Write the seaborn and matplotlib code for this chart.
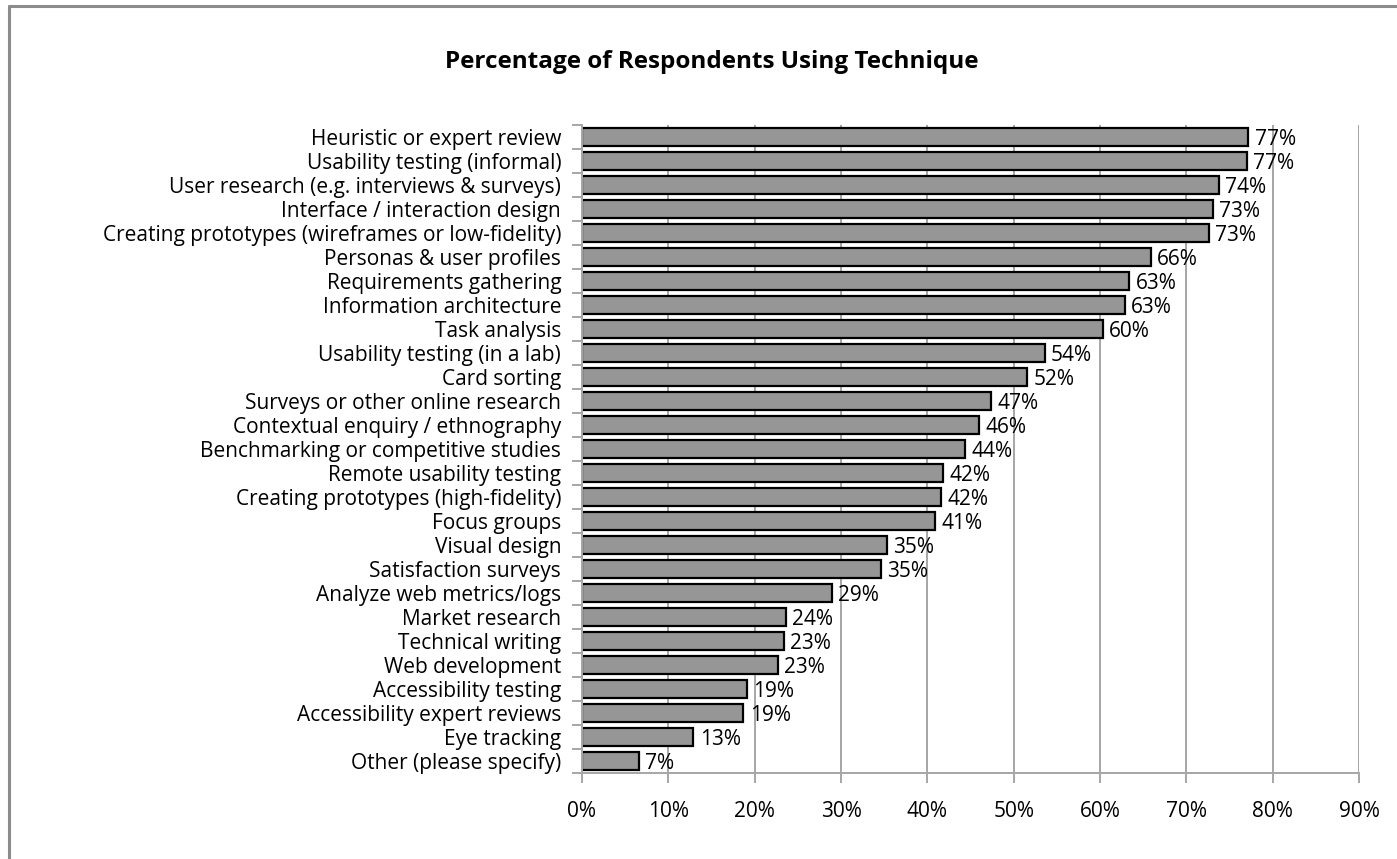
import matplotlib
matplotlib.use("Agg")
import matplotlib.pyplot as plt
from matplotlib.lines import Line2D
from matplotlib.ticker import FixedLocator, PercentFormatter
import numpy as np
import pandas as pd
import seaborn as sns

# Share of respondents using each UX technique (%)
techniques = [
    "Heuristic or expert review",
    "Usability testing (informal)",
    "User research (e.g. interviews & surveys)",
    "Interface / interaction design",
    "Creating prototypes (wireframes or low-fidelity)",
    "Personas & user profiles",
    "Requirements gathering",
    "Information architecture",
    "Task analysis",
    "Usability testing (in a lab)",
    "Card sorting",
    "Surveys or other online research",
    "Contextual enquiry / ethnography",
    "Benchmarking or competitive studies",
    "Remote usability testing",
    "Creating prototypes (high-fidelity)",
    "Focus groups",
    "Visual design",
    "Satisfaction surveys",
    "Analyze web metrics/logs",
    "Market research",
    "Technical writing",
    "Web development",
    "Accessibility testing",
    "Accessibility expert reviews",
    "Eye tracking",
    "Other (please specify)",
]
percent_using = [
    77.2, 77.0, 73.8, 73.1, 72.6, 65.9, 63.4, 62.9, 60.3, 53.6,
    51.6, 47.4, 46.0, 44.4, 41.8, 41.6, 40.9, 35.3, 34.6, 28.9,
    23.6, 23.4, 22.7, 19.1, 18.7, 12.9, 6.6,
]
x_ticks = [0, 10, 20, 30, 40, 50, 60, 70, 80, 90]
title = "Percentage of Respondents Using Technique"

df = pd.DataFrame({"technique": techniques, "percent": percent_using})

sns.set_theme(style="white")
plt.rcParams["font.family"] = ["Open Sans", "DejaVu Sans"]

W, H = 1397, 859
fig = plt.figure(figsize=(W / 100, H / 100), dpi=100)
fig.patch.set_facecolor("white")

left, right, bottom, top = 582 / W, 1359 / W, (H - 773) / H, (H - 125) / H
ax = fig.add_axes([left, bottom, right - left, top - bottom])

grid_color = "#A6A6A6"
label_size = 15
ax.set_axisbelow(True)

sns.barplot(
    data=df, x="percent", y="technique", ax=ax,
    color="#969696", edgecolor="black", linewidth=1.6, width=0.74,
    saturation=1,
)

# value labels at the bar ends, nudged slightly down
labels = [f"{v:.0f}%" for v in percent_using]
texts = ax.bar_label(ax.containers[0], labels=labels, padding=4,
                     fontsize=label_size, color="black")
for t in texts:
    t.xyann = (4.5, -1.5)

ax.set_xlim(0, 90)
ax.set_ylim(len(techniques) - 0.5, -0.5)
ax.xaxis.set_major_locator(FixedLocator(x_ticks))
ax.xaxis.set_major_formatter(PercentFormatter(decimals=0))
ax.grid(axis="x", color=grid_color, linewidth=1.4)
ax.grid(axis="y", visible=False)

ax.set_xlabel("")
ax.set_ylabel("")

for side in ("top", "right"):
    ax.spines[side].set_visible(False)
for side in ("left", "bottom"):
    ax.spines[side].set_color(grid_color)
    ax.spines[side].set_linewidth(1.4)

ax.tick_params(axis="x", which="major", direction="out", length=7,
               width=1.4, color=grid_color, pad=13, labelsize=label_size,
               labelcolor="black", bottom=True)
# category boundaries carry the tick marks on the vertical axis
ax.yaxis.set_minor_locator(FixedLocator(np.arange(-0.5, len(techniques), 1.0)))
ax.tick_params(axis="y", which="major", length=0, pad=15,
               labelsize=label_size, labelcolor="black")
ax.tick_params(axis="y", which="minor", direction="out", length=7,
               width=1.4, color=grid_color, left=True)

fig.text((436 + 987) / 2 / W, 1 - 62 / H, title, ha="center", va="center",
         fontsize=17.5, fontweight="bold", color="black")

# chart frame
frame_color = "#8C8C8C"
fig.add_artist(Line2D([9 / W, 9 / W], [0, 1 - 6 / H], transform=fig.transFigure,
                      color=frame_color, linewidth=2.2))
fig.add_artist(Line2D([9 / W, 1], [1 - 6 / H, 1 - 6 / H], transform=fig.transFigure,
                      color=frame_color, linewidth=2.2))

fig.savefig("out.png", dpi=100, facecolor="white")
